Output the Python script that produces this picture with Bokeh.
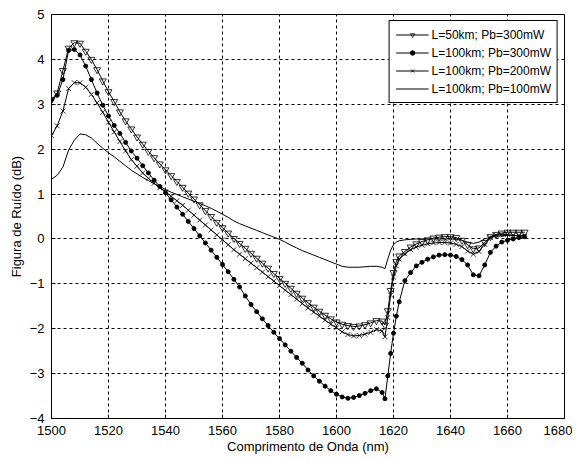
from bokeh.plotting import figure
from bokeh.models import Range1d, FixedTicker, Legend, LegendItem
from bokeh.embed import file_html
from bokeh.resources import INLINE

wavelength = [1500, 1502, 1504, 1506, 1508, 1510, 1512, 1514, 1516, 1518,
              1520, 1522, 1524, 1526, 1528, 1530, 1532, 1534, 1536, 1538,
              1540, 1542, 1544, 1546, 1548, 1550, 1552, 1554, 1556, 1558,
              1560, 1562, 1564, 1566, 1568, 1570, 1572, 1574, 1576, 1578,
              1580, 1582, 1584, 1586, 1588, 1590, 1592, 1594, 1596, 1598,
              1600, 1602, 1604, 1606, 1608, 1610, 1612, 1614, 1616, 1617,
              1618, 1619, 1620, 1621, 1622, 1624, 1626, 1628, 1630, 1632,
              1634, 1636, 1638, 1640, 1642, 1644, 1646, 1648, 1650, 1652,
              1654, 1656, 1658, 1660, 1662, 1664, 1666]

nf_50km_300mw = [3.10, 3.25, 3.75, 4.25, 4.37, 4.36, 4.18, 4.00, 3.77, 3.52,
                 3.28, 3.06, 2.83, 2.63, 2.45, 2.27, 2.11, 1.95, 1.81, 1.67,
                 1.54, 1.41, 1.28, 1.15, 1.02, 0.89, 0.76, 0.63, 0.50, 0.37,
                 0.25, 0.13, 0.01, -0.10, -0.21, -0.32, -0.43, -0.54, -0.65, -0.77,
                 -0.88, -0.99, -1.10, -1.21, -1.32, -1.42, -1.52, -1.61, -1.70, -1.78,
                 -1.85, -1.90, -1.93, -1.95, -1.94, -1.91, -1.87, -1.82, -1.83, -1.92,
                 -1.60, -1.15, -0.75, -0.50, -0.38, -0.28, -0.18, -0.11, -0.06, -0.02,
                 0.02, 0.04, 0.05, 0.05, 0.03, -0.03, -0.13, -0.22, -0.20, -0.08,
                 0.05, 0.10, 0.13, 0.15, 0.15, 0.15, 0.15]

nf_100km_300mw = [3.10, 3.20, 3.55, 4.20, 4.22, 4.10, 3.85, 3.55, 3.25, 2.98,
                  2.74, 2.53, 2.35, 2.15, 1.96, 1.80, 1.63, 1.47, 1.31, 1.17,
                  1.03, 0.87, 0.71, 0.55, 0.39, 0.23, 0.07, -0.09, -0.25, -0.41,
                  -0.57, -0.73, -0.90, -1.07, -1.27, -1.46, -1.62, -1.78, -1.93, -2.08,
                  -2.22, -2.36, -2.50, -2.64, -2.77, -2.92, -3.05, -3.17, -3.28, -3.38,
                  -3.46, -3.52, -3.55, -3.53, -3.49, -3.44, -3.38, -3.34, -3.42, -3.56,
                  -3.05, -2.55, -2.10, -1.72, -1.40, -0.93, -0.75, -0.60, -0.52, -0.45,
                  -0.40, -0.36, -0.35, -0.36, -0.39, -0.46, -0.58, -0.80, -0.82, -0.58,
                  -0.30, -0.16, -0.07, -0.03, 0.00, 0.03, 0.05]

nf_100km_200mw = [2.30, 2.52, 2.85, 3.35, 3.48, 3.48, 3.38, 3.22, 3.03, 2.82,
                  2.60, 2.38, 2.17, 1.96, 1.77, 1.62, 1.47, 1.35, 1.24, 1.14,
                  1.05, 0.95, 0.85, 0.75, 0.64, 0.53, 0.42, 0.31, 0.20, 0.09,
                  -0.02, -0.13, -0.24, -0.34, -0.44, -0.54, -0.64, -0.74, -0.84, -0.94,
                  -1.04, -1.14, -1.24, -1.34, -1.44, -1.54, -1.63, -1.72, -1.81, -1.90,
                  -1.98, -2.07, -2.13, -2.16, -2.15, -2.12, -2.08, -2.02, -2.05, -2.18,
                  -1.75, -1.25, -0.85, -0.60, -0.45, -0.33, -0.24, -0.18, -0.14, -0.11,
                  -0.09, -0.08, -0.08, -0.09, -0.12, -0.17, -0.27, -0.34, -0.28, -0.12,
                  0.03, 0.08, 0.10, 0.10, 0.08, 0.07, 0.06]

nf_100km_100mw = [1.33, 1.42, 1.60, 1.98, 2.20, 2.34, 2.32, 2.25, 2.13, 2.02,
                  1.92, 1.83, 1.73, 1.63, 1.53, 1.45, 1.37, 1.30, 1.23, 1.17,
                  1.10, 1.04, 0.99, 0.94, 0.89, 0.84, 0.79, 0.74, 0.68, 0.62,
                  0.55, 0.48, 0.40, 0.34, 0.29, 0.24, 0.19, 0.14, 0.09, 0.04,
                  -0.01, -0.07, -0.14, -0.20, -0.26, -0.31, -0.36, -0.41, -0.46, -0.51,
                  -0.56, -0.61, -0.63, -0.63, -0.63, -0.62, -0.61, -0.61, -0.63, -0.66,
                  -0.45, -0.25, -0.13, -0.07, -0.04, -0.02, -0.01, 0.00, 0.00, 0.00,
                  0.00, 0.00, 0.00, 0.00, -0.01, -0.03, -0.07, -0.10, -0.07, 0.00,
                  0.04, 0.06, 0.07, 0.08, 0.08, 0.08, 0.08]

x_ticks = [1500, 1520, 1540, 1560, 1580, 1600, 1620, 1640, 1660, 1680]
y_ticks = [-4, -3, -2, -1, 0, 1, 2, 3, 4, 5]

labels = ["L=50km; Pb=300mW", "L=100km; Pb=300mW",
          "L=100km; Pb=200mW", "L=100km; Pb=100mW"]

FONT = "Liberation Sans"

p = figure(frame_width=513, frame_height=404, output_backend="svg",
           toolbar_location=None,
           x_range=Range1d(1500, 1680), y_range=Range1d(-4, 5),
           min_border_left=51, min_border_right=8, min_border_top=14,
           min_border_bottom=37)
p.background_fill_color = "white"
p.border_fill_color = "white"
p.outline_line_color = "black"
p.outline_line_alpha = 1.0

for ax in (p.xaxis, p.yaxis):
    ax.axis_line_color = "black"
    ax.major_tick_line_color = "black"
    ax.major_tick_in = 4
    ax.major_tick_out = 0
    ax.minor_tick_line_color = None
    ax.major_label_text_font = FONT
    ax.major_label_text_font_size = "13px"
    ax.major_label_text_color = "black"
    ax.axis_label_text_font = FONT
    ax.axis_label_text_font_size = "13px"
    ax.axis_label_text_font_style = "normal"
    ax.axis_label_text_color = "black"

p.xaxis.ticker = FixedTicker(ticks=x_ticks)
p.yaxis.ticker = FixedTicker(ticks=y_ticks)
p.xaxis.axis_label = "Comprimento de Onda (nm)"
p.yaxis.axis_label = "Figura de Ruído (dB)"
p.xaxis.major_label_standoff = 7
p.xaxis.axis_label_standoff = 1
p.yaxis.major_label_standoff = 7
p.yaxis.axis_label_standoff = 3

p.grid.grid_line_color = "black"
p.grid.grid_line_dash = "3 3"
p.grid.grid_line_width = 1

r1l = p.line(wavelength, nf_50km_300mw, line_color="black", line_width=1)
r1m = p.scatter(wavelength, nf_50km_300mw, marker="inverted_triangle", size=7,
                fill_color=None, line_color="black", line_width=0.8)
r2l = p.line(wavelength, nf_100km_300mw, line_color="black", line_width=1)
r2m = p.scatter(wavelength, nf_100km_300mw, marker="circle", size=4,
                fill_color="black", line_color="black")
r3l = p.line(wavelength, nf_100km_200mw, line_color="black", line_width=1)
r3m = p.scatter(wavelength, nf_100km_200mw, marker="x", size=7,
                line_color="black", line_width=0.8)
r4l = p.line(wavelength, nf_100km_100mw, line_color="black", line_width=1)

legend = Legend(items=[
    LegendItem(label=labels[0], renderers=[r1l, r1m]),
    LegendItem(label=labels[1], renderers=[r2l, r2m]),
    LegendItem(label=labels[2], renderers=[r3l, r3m]),
    LegendItem(label=labels[3], renderers=[r4l]),
], location="top_right")
legend.label_text_font = FONT
legend.label_text_font_size = "12px"
legend.label_text_color = "black"
legend.border_line_color = "black"
legend.border_line_width = 1
legend.border_line_alpha = 1.0
legend.background_fill_color = "white"
legend.background_fill_alpha = 1.0
legend.glyph_width = 33
legend.glyph_height = 11
legend.label_height = 15
legend.label_standoff = 3
legend.spacing = 3
legend.padding = 6
legend.margin = 6
p.add_layout(legend)

open("out.html", "w").write(file_html(p, INLINE))
